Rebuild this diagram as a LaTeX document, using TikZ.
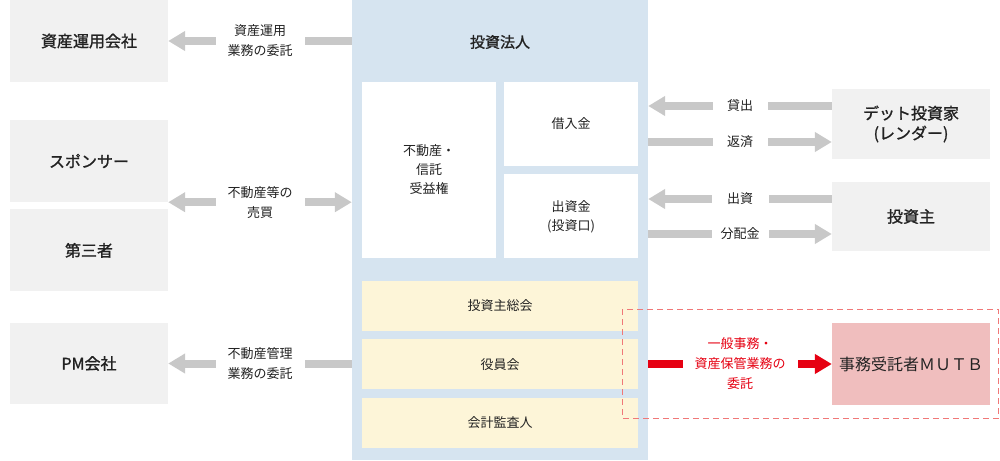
\documentclass[tikz,border=0pt]{standalone}
\usepackage{fontspec}
\setmainfont{Noto Sans CJK JP}[BoldFont=Noto Sans CJK JP, BoldFeatures={FakeBold=1.2}]
\usepackage{tikz}
\usetikzlibrary{arrows.meta,positioning}
\definecolor{reitblue}{RGB}{214,228,240}
\definecolor{reitgray}{RGB}{241,241,241}
\definecolor{reityellow}{RGB}{253,245,216}
\definecolor{reitarrow}{RGB}{200,200,200}
\definecolor{reitred}{RGB}{230,0,18}
\definecolor{reitpink}{RGB}{240,190,190}
\definecolor{reitdash}{RGB}{240,120,120}
\definecolor{reittext}{RGB}{34,34,34}
\tikzstyle{party} = [rectangle, minimum width=158pt, minimum height=82pt, inner sep=0pt, align=center, fill=reitgray, text=reittext, font=\fontsize{16}{20}\selectfont\bfseries]
\tikzstyle{holding} = [rectangle, minimum width=134pt, minimum height=84pt, inner sep=0pt, align=center, fill=white, text=reittext, font=\fontsize{13}{19}\selectfont]
\tikzstyle{organ} = [rectangle, minimum width=276pt, minimum height=50pt, inner sep=0pt, fill=reityellow, text=reittext, font=\fontsize{13}{19}\selectfont]
\tikzstyle{flow} = [line width=8pt, color=reitarrow, -{Triangle[length=17pt,width=19pt]}]
\tikzstyle{flowlabel} = [rectangle, fill=white, text=reittext, align=center, inner sep=0pt, minimum height=30pt, font=\fontsize{13}{20}\selectfont]

\begin{document}
\begin{tikzpicture}[x=1pt, y=-1pt]
\useasboundingbox (0,0) rectangle (1000,460);
% investment corporation
\node (corp) [rectangle, fill=reitblue, minimum width=296pt, minimum height=460pt, inner sep=0pt] at (500,230) {};
\node (corptitle) [text=reittext, font=\fontsize{15}{19}\selectfont\bfseries] at (500,42) {投資法人};
\node (estate) [holding, minimum height=176pt] at (429,170) {不動産・\\信託\\受益権};
\node (loan) [holding] at (571,124) {借入金};
\node (equity) [holding, below=8pt of loan] {出資金\\(投資口)};
\node (meeting) [organ] at (500,306) {投資主総会};
\node (board) [organ, below=8pt of meeting] {役員会};
\node (auditor) [organ, below=8pt of board] {会計監査人};

% left side
\node (manager) [party, minimum height=81pt] at (89,41) {資産運用会社};
\node (sponsor) [party] at (89,161) {スポンサー};
\node (third) [party, below=7pt of sponsor] {第三者};
\node (pm) [party, minimum height=81pt] at (89,363.5) {PM会社};

% right side
\node (lender) [party, minimum height=70pt] at (911,124) {デット投資家\\(レンダー)};
\node (investor) [party, minimum height=69pt] at (911,216.5) {投資主};
\node (mutb) [party, fill=reitpink, font=\fontsize{16}{20}\selectfont] at (911,364) {事務受託者ＭＵＴＢ};

\coordinate (lendin) at ([yshift=18pt]lender.west);
\coordinate (lendout) at ([yshift=-18pt]lender.west);
\coordinate (investin) at ([yshift=17.5pt]investor.west);
\coordinate (investout) at ([yshift=-17.5pt]investor.west);

\draw[flow] (corp.west |- manager) -- node[flowlabel, minimum width=89pt] {資産運用\\業務の委託} (manager.east);
\draw[flow, {Triangle[length=17pt,width=19pt]}-{Triangle[length=17pt,width=19pt]}] (sponsor.south east) -- node[flowlabel, minimum width=89pt] {不動産等の\\売買} (corp.west |- sponsor.south east);
\draw[flow] (corp.west |- pm) -- node[flowlabel, minimum width=89pt] {不動産管理\\業務の委託} (pm.east);

\draw[flow] (lendin) -- node[flowlabel, minimum width=55pt, minimum height=20pt] {貸出} (corp.east |- lendin);
\draw[flow] (corp.east |- lendout) -- node[flowlabel, minimum width=55pt, minimum height=20pt] {返済} (lendout);
\draw[flow] (investin) -- node[flowlabel, minimum width=57pt, minimum height=20pt] {出資} (corp.east |- investin);
\draw[flow] (corp.east |- investout) -- node[flowlabel, minimum width=57pt, minimum height=20pt] {分配金} (investout);

\draw[flow, color=reitred] (corp.east |- mutb) -- node[flowlabel, minimum width=115pt, text=reitred] {一般事務・\\資産保管業務の\\委託} (mutb.west);

% outsourcing frame
\draw[reitdash, line width=1pt, dash pattern=on 6pt off 4pt] (622,309) rectangle (998.5,418);
\end{tikzpicture}
\end{document}
